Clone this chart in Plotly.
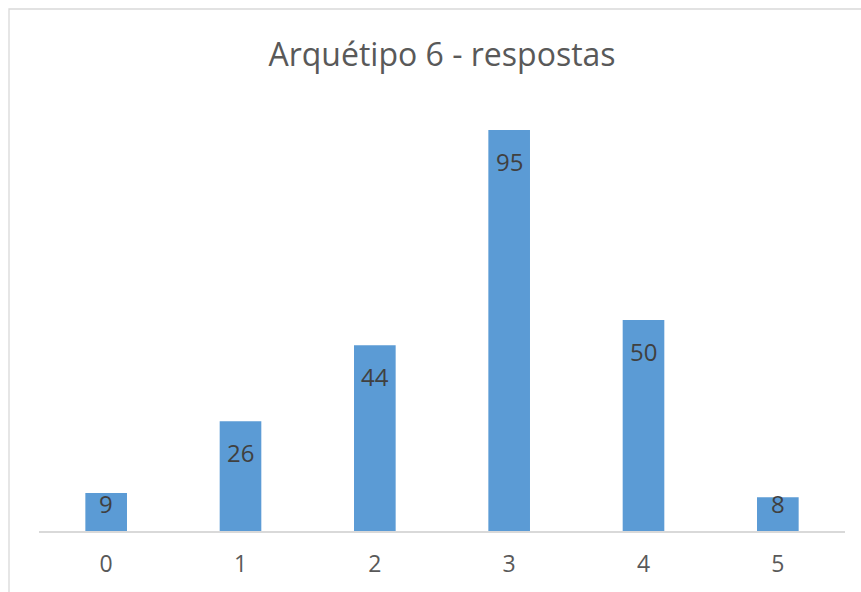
import plotly.graph_objects as go

categories = ["0", "1", "2", "3", "4", "5"]
values = [9, 26, 44, 95, 50, 8]
title_text = "Arquétipo 6 - respostas"

W, H = 861, 592
ml, mr, mt, mb = 39, 16, 109, 61
pw, ph = W - ml - mr, H - mt - mb
ymax = 100

fig = go.Figure(go.Bar(
    x=categories, y=values,
    marker=dict(color="#5B9BD5", line=dict(width=0)),
    width=0.31,
    hoverinfo="x+y",
))

# data labels, Excel-style "inside end" with clamping near the base
off = 31 / ph * ymax
minc = 6.6
for c, v in zip(categories, values):
    fig.add_annotation(x=c, y=max(v - off, minc), text=str(v), showarrow=False,
                       yanchor="middle", xanchor="center",
                       font=dict(family="Open Sans", size=24, color="#404040"))

# chart border
fig.add_shape(type="rect", xref="paper", yref="paper",
              x0=(9 - ml) / pw, x1=(W + 5 - ml) / pw,
              y0=-(H + 5 - mt - ph) / ph, y1=1 + (mt - 9) / ph,
              line=dict(color="#D9D9D9", width=1.3), layer="below")

fig.update_layout(
    width=W, height=H,
    margin=dict(l=ml, r=mr, t=mt, b=mb),
    paper_bgcolor="white", plot_bgcolor="white",
    showlegend=False,
    title=dict(text=title_text, x=(442 - ml) / pw, xref="paper", xanchor="center",
               y=1 - 55 / H, yanchor="middle",
               font=dict(family="Open Sans", size=32, color="#595959")),
    xaxis=dict(type="category", showline=True, linecolor="#D9D9D9", linewidth=1.5,
               ticks="", showgrid=False, zeroline=False, ticklabelstandoff=12,
               tickfont=dict(family="Open Sans", size=23, color="#595959")),
    yaxis=dict(range=[0, ymax], visible=False, showgrid=False, zeroline=False),
)

fig.write_html("out.html")
